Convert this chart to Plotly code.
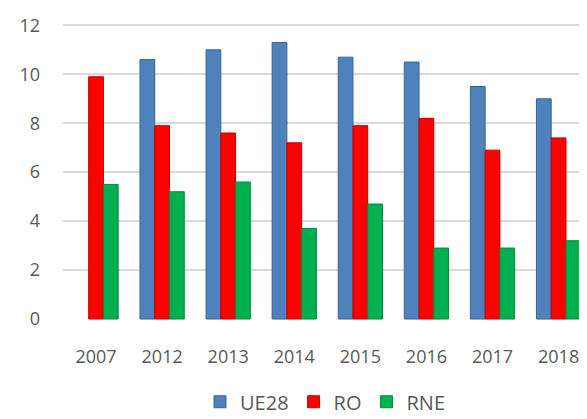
import plotly.graph_objects as go

years = ["2007", "2012", "2013", "2014", "2015", "2016", "2017", "2018"]
ue28 = [None, 10.6, 11.0, 11.3, 10.7, 10.5, 9.5, 9.0]
ro = [9.9, 7.9, 7.6, 7.2, 7.9, 8.2, 6.9, 7.4]
rne = [5.5, 5.2, 5.6, 3.7, 4.7, 2.9, 2.9, 3.2]
y_ticks = [0, 2, 4, 6, 8, 10, 12]

series = [
    ("UE28", ue28, "#4F81BD", "#3A6496"),
    ("RO", ro, "#FF0000", "#C00000"),
    ("RNE", rne, "#00B050", "#008A3E"),
]

fig = go.Figure()
for name, vals, col, edge in series:
    fig.add_trace(go.Bar(
        x=years, y=vals, name=name,
        marker=dict(color=col, line=dict(color=edge, width=1)),
    ))

fig.update_layout(
    width=579, height=411,
    margin=dict(l=55, r=0, t=10, b=99),
    paper_bgcolor="white", plot_bgcolor="white",
    barmode="group", bargap=0.33, bargroupgap=0,
    font=dict(family="Open Sans, Lato, sans-serif", size=18, color="#595959"),
    showlegend=True,
    legend=dict(orientation="h", x=0.5, xanchor="center",
                yref="container", y=0.042, yanchor="middle",
                font=dict(size=20, color="#595959"), itemwidth=30,
                traceorder="normal"),
    xaxis=dict(type="category", range=[-0.5, 7.43], showgrid=False, showline=False,
               ticks="", ticklabelstandoff=24, tickfont=dict(size=18), automargin=False),
    yaxis=dict(range=[-0.04, 12.3], tickvals=y_ticks, showgrid=True,
               gridcolor="#D9D9D9", gridwidth=1.5, zeroline=False, showline=False,
               ticks="", ticklabelstandoff=22, tickfont=dict(size=18), automargin=False),
)

fig.write_html("out.html")
